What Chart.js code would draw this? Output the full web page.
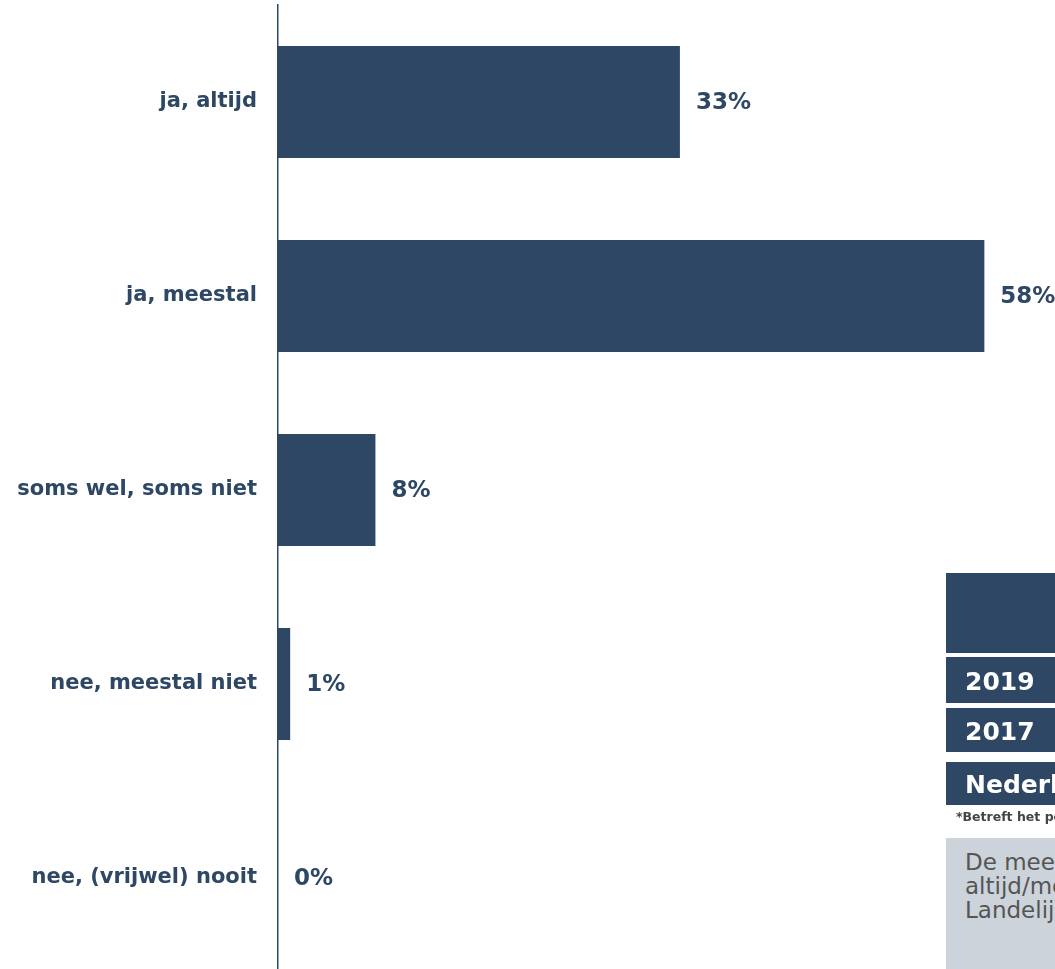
<!DOCTYPE html>
<html>
<head>
<meta charset="utf-8">
<script src="https://cdn.jsdelivr.net/npm/chart.js@4"></script>
<style>
  html, body { margin: 0; padding: 0; background: #fff; overflow: hidden; }
  body { width: 1055px; height: 969px; position: relative; font-family: "DejaVu Sans", Verdana, sans-serif; }
  #chart-wrap { position: absolute; left: 0; top: 0; width: 1055px; height: 980px; }
  .side { position: absolute; left: 946px; width: 300px; white-space: nowrap; }
  .blok { background: #2d4764; color: #fff; font-weight: bold; font-size: 25px; box-sizing: border-box; padding-left: 19px; }
  #kop { top: 573px; height: 80px; }
  #r2019 { top: 657px; height: 46px; line-height: 50px; }
  #r2017 { top: 708px; height: 44px; line-height: 48px; }
  #rnl { top: 762px; height: 43px; line-height: 46px; }
  #noot { top: 809px; font-size: 12.5px; font-weight: bold; color: #444; padding-left: 10px; }
  #tekst { top: 838px; height: 140px; background: #ccd3db; color: #555; font-size: 23px; line-height: 24px; padding: 12px 0 0 19px; box-sizing: border-box; width: 400px; }
</style>
</head>
<body>
<div id="chart-wrap"><canvas id="chart"></canvas></div>

<div class="side blok" id="kop"></div>
<div class="side blok" id="r2019">2019</div>
<div class="side blok" id="r2017">2017</div>
<div class="side blok" id="rnl">Nederland</div>
<div class="side" id="noot">*Betreft het percentage altijd/meestal</div>
<div class="side" id="tekst">De meeste cliënten geven<br>altijd/meestal aan dat<br>Landelijk is dit vergelijkbaar</div>

<script>
const categories = [
  "ja, altijd",
  "ja, meestal",
  "soms wel, soms niet",
  "nee, meestal niet",
  "nee, (vrijwel) nooit",
];
const percentages = [33, 58, 8, 1, 0];

const barColor = "#2d4764";
const textColor = "#2d4764";
const fontFamily = "'DejaVu Sans', Verdana, sans-serif";

// draws the "33%" style labels next to each bar
const valueLabels = {
  id: "valueLabels",
  afterDatasetsDraw(chart) {
    const ctx = chart.ctx;
    const meta = chart.getDatasetMeta(0);
    ctx.save();
    ctx.font = "bold 23px " + fontFamily;
    ctx.fillStyle = textColor;
    ctx.textAlign = "left";
    ctx.textBaseline = "middle";
    meta.data.forEach((bar, i) => {
      ctx.fillText(percentages[i] + "%", bar.x + 16, bar.y + 1);
    });
    ctx.restore();
  },
};

new Chart(document.getElementById("chart"), {
  type: "bar",
  data: {
    labels: categories,
    datasets: [
      {
        data: percentages,
        backgroundColor: barColor,
        borderWidth: 0,
        barPercentage: 0.577,
        categoryPercentage: 1,
      },
    ],
  },
  options: {
    indexAxis: "y",
    responsive: true,
    maintainAspectRatio: false,
    animation: false,
    layout: { padding: { top: 5, bottom: 5, left: 0, right: 0 } },
    plugins: {
      legend: { display: false },
      tooltip: { enabled: false },
    },
    scales: {
      x: {
        min: 0,
        max: 63.8,
        display: false,
      },
      y: {
        afterFit(scale) {
          scale.width = 278;
          scale.paddingTop = 0;
          scale.paddingBottom = 0;
        },
        grid: { display: false, drawTicks: false },
        border: { display: true, color: barColor, width: 1.5 },
        ticks: {
          color: textColor,
          padding: 21,
          font: { family: fontFamily, size: 21, weight: "bold" },
        },
      },
    },
  },
  plugins: [valueLabels],
});
</script>
</body>
</html>
